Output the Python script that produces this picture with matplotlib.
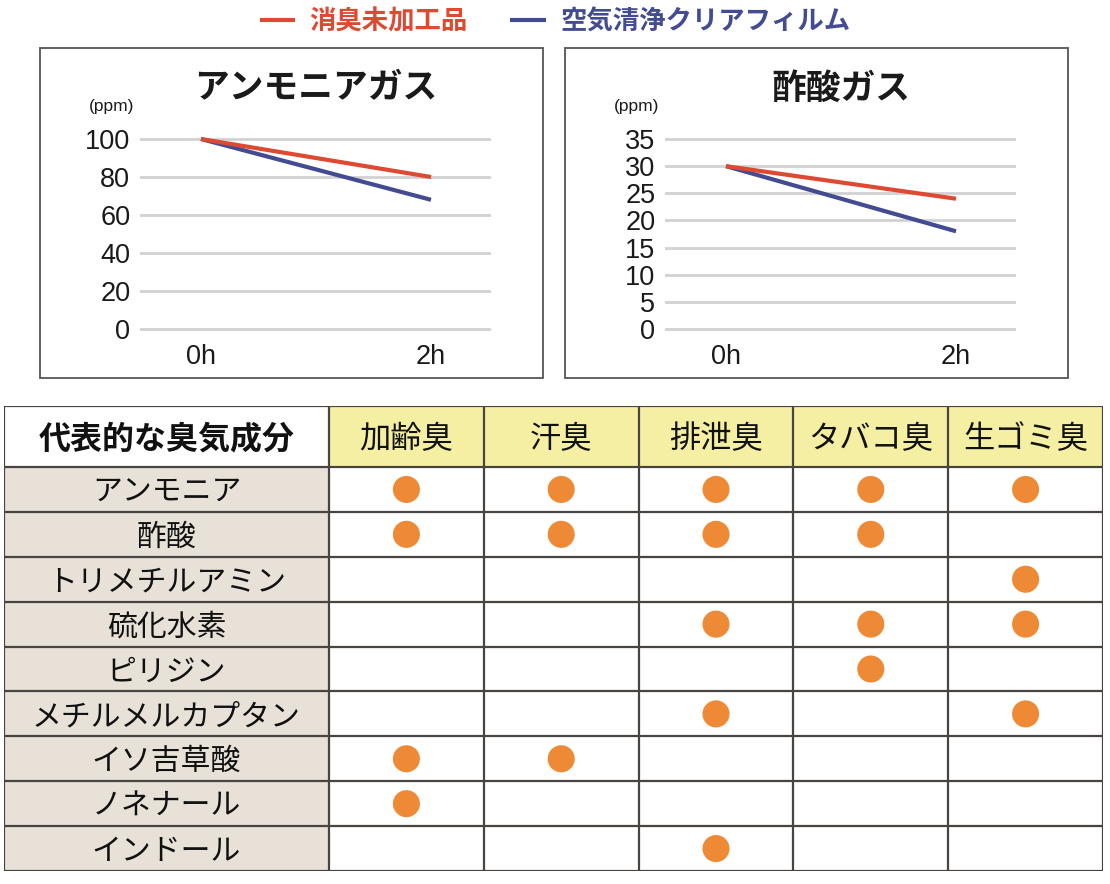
import matplotlib.pyplot as plt
from matplotlib.patches import Rectangle

plt.rcParams['font.family'] = ['Liberation Sans', 'Noto Sans CJK JP']
JP = ['Noto Sans CJK JP', 'DejaVu Sans']

# --- data ---
times = ['0h', '2h']
series_names = ['消臭未加工品', '空気清浄クリアフィルム']
ammonia_plain = [100, 80]
ammonia_film = [100, 68]
acetic_plain = [30, 24]
acetic_film = [30, 18]
ammonia_ticks = [0, 20, 40, 60, 80, 100]
acetic_ticks = [0, 5, 10, 15, 20, 25, 30, 35]

odor_types = ['加齢臭', '汗臭', '排泄臭', 'タバコ臭', '生ゴミ臭']
components = ['アンモニア', '酢酸', 'トリメチルアミン', '硫化水素', 'ピリジン',
              'メチルメルカプタン', 'イソ吉草酸', 'ノネナール', 'インドール']
# 1 = contained
matrix = [
    [1, 1, 1, 1, 1],
    [1, 1, 1, 1, 0],
    [0, 0, 0, 0, 1],
    [0, 0, 1, 1, 1],
    [0, 0, 0, 1, 0],
    [0, 0, 1, 0, 1],
    [1, 1, 0, 0, 0],
    [1, 0, 0, 0, 0],
    [0, 0, 1, 0, 0],
]

RED = '#DE4A31'
BLUE = '#434C92'
W, H = 1110, 884

fig = plt.figure(figsize=(W / 100, H / 100), dpi=100)


def px_axes(l, t, r, b):
    return fig.add_axes([l / W, 1 - b / H, (r - l) / W, (b - t) / H])


def line_chart(box_l, title, plain, film, ticks, ymax):
    # frame around chart
    fig.patches.append(Rectangle((box_l / W, 1 - 378 / H), 503 / W, 330 / H,
                                 transform=fig.transFigure, fill=False,
                                 edgecolor='#555555', linewidth=1.3))
    l, r = box_l + 100, box_l + 451
    ax = px_axes(l, 125, r, 345)
    ppu = 190 / ymax
    ax.set_ylim(-16 / ppu, ymax + 14 / ppu)
    ax.set_xlim(-61 / 115, 2 + 60 / 115)
    for t in ticks:
        ax.axhline(t, color='#D2D2D2', linewidth=2, zorder=1)
    h1, = ax.plot([0, 2], plain, color=RED, linewidth=3, zorder=3,
                  solid_capstyle='butt', label=series_names[0])
    h2, = ax.plot([0, 2], film, color=BLUE, linewidth=3, zorder=2,
                  solid_capstyle='butt', label=series_names[1])
    ax.set_yticks(ticks)
    ax.set_yticklabels([str(t) for t in ticks], fontsize=19.5, color='#1a1a1a')
    ax.set_xticks([0, 2])
    ax.set_xticklabels(times, fontsize=19.5, color='#1a1a1a')
    ax.tick_params(length=0)
    ax.tick_params(axis='y', pad=7)
    ax.tick_params(axis='x', pad=-1)
    for s in ax.spines.values():
        s.set_visible(False)
    fig.text((box_l + 72) / W, 1 - 106 / H, '(ppm)', fontsize=12.5,
             ha='center', va='center', color='#1a1a1a')
    fig.text((l + r) / 2 / W, 1 - 88 / H, title, fontsize=25, fontweight='bold',
             ha='center', va='center', family=JP, color='#1a1a1a')
    return h1, h2


h1, h2 = line_chart(40, 'アンモニアガス', ammonia_plain, ammonia_film, ammonia_ticks, 100)
line_chart(565, '酢酸ガス', acetic_plain, acetic_film, acetic_ticks, 35)

leg = fig.legend([h1, h2], series_names, loc='center', bbox_to_anchor=(555 / W, 1 - 22 / H),
                 ncol=2, frameon=False, handlelength=1.35, handletextpad=0.55,
                 columnspacing=1.6, labelcolor='linecolor',
                 prop={'family': JP, 'size': 19, 'weight': 'bold'})

# --- table ---
tl, tt, tr, tb = 4, 406, 1103, 871
axt = px_axes(tl, tt, tr, tb)
axt.set_xlim(0, tr - tl)
axt.set_ylim(tb - tt, 0)
axt.axis('off')
first_w = 325
col_w = (tr - tl - first_w) / len(odor_types)
head_h = 61
row_h = (tb - tt - head_h) / len(components)
col_edges = [0, first_w] + [first_w + col_w * (i + 1) for i in range(len(odor_types))]
row_edges = [0, head_h] + [head_h + row_h * (i + 1) for i in range(len(components))]
text_dy = 3  # CJK glyphs sit a little high with va='center'

for i in range(len(odor_types)):
    axt.add_patch(Rectangle((col_edges[i + 1], 0), col_w, head_h,
                            facecolor='#F4EFA3', edgecolor='none', zorder=0))
for j in range(len(components)):
    axt.add_patch(Rectangle((0, row_edges[j + 1]), first_w, row_h,
                            facecolor='#E7E1D8', edgecolor='none', zorder=0))
line_c = '#4A4440'
axt.hlines(row_edges, 0, tr - tl, color=line_c, linewidth=1.6, zorder=2)
axt.vlines(col_edges, 0, tb - tt, color=line_c, linewidth=1.6, zorder=2)

axt.text(first_w / 2, head_h / 2 + text_dy, '代表的な臭気成分', fontsize=23, fontweight='bold',
         ha='center', va='center', family=JP, color='#111111')
for i, name in enumerate(odor_types):
    axt.text(col_edges[i + 1] + col_w / 2, head_h / 2 + text_dy, name, fontsize=22.5,
             ha='center', va='center', family=JP, color='#111111')
for j, name in enumerate(components):
    axt.text(first_w / 2, row_edges[j + 1] + row_h / 2 + text_dy, name, fontsize=21.5,
             ha='center', va='center', family=JP, color='#111111')

dx, dy = [], []
for j, row in enumerate(matrix):
    for i, v in enumerate(row):
        if v:
            dx.append(col_edges[i + 1] + col_w / 2)
            dy.append(row_edges[j + 1] + row_h / 2)
axt.scatter(dx, dy, s=380, color='#EE8A36', edgecolors='none', zorder=3)

fig.savefig('out.png', dpi=100, facecolor='white')
